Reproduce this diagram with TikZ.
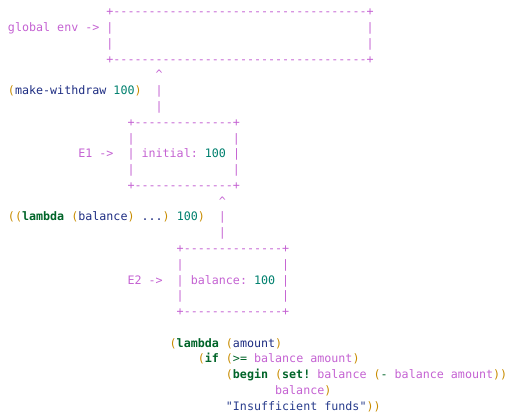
\documentclass[tikz,border=0pt]{standalone}
\usepackage{fontspec}
\setmonofont{DejaVu Sans Mono}

\definecolor{envpurple}{RGB}{196,98,210}
\definecolor{idblue}{RGB}{30,45,130}
\definecolor{kwgreen}{RGB}{0,100,40}
\definecolor{numteal}{RGB}{0,128,110}
\definecolor{pargold}{RGB}{200,140,0}
\definecolor{strblue}{RGB}{40,60,140}

\newcommand{\gap}[1]{\hspace*{#1\dimexpr0.602em\relax}}
\newcommand{\rep}[2]{\foreach \i in {1,...,#1}{#2}}
\newcommand{\border}[1]{+\rep{#1}{-}+}
\newcommand{\side}[1]{|\gap{#1}|}
\newcommand{\prn}[1]{\textcolor{pargold}{#1}}
\newcommand{\kwd}[1]{\textcolor{kwgreen}{\bfseries #1}}
\newcommand{\opr}[1]{\textcolor{kwgreen}{#1}}
\newcommand{\numb}[1]{\textcolor{numteal}{#1}}
\newcommand{\vrb}[1]{\textcolor{envpurple}{#1}}
\newcommand{\strg}[1]{\textcolor{strblue}{#1}}

\begin{document}
\begin{tikzpicture}[x=7.03pt, y=-15.78pt,
	code/.style={anchor=base west, inner sep=0pt, outer sep=0pt, text=idblue,
		font=\ttfamily\fontsize{11.68}{15.78}\selectfont\frenchspacing},
	frame/.style={code, text=envpurple}]
	\useasboundingbox (0pt,0pt) rectangle (512pt,-419pt);
	\begin{scope}[xshift=8pt]
		% global environment
		\node[frame] (gtop) at (14,1) {\border{36}};
		\node[frame] (glabel) at (0,2) {global env -> \side{36}};
		\node[frame] (gside) at (14,3) {\side{36}};
		\node[frame] (gbot) at (14,4) {\border{36}};
		% first call, frame E1
		\node[frame] (uparrow1) at (21,5) {\textasciicircum};
		\node[code] (call1) at (0,6) {\prn{(}make-withdraw \numb{100}\prn{)}\gap{2}\textcolor{envpurple}{|}};
		\node[frame] (stem1) at (21,7) {|};
		\node[frame] (etop1) at (17,8) {\border{14}};
		\node[frame] (eside1) at (17,9) {\side{14}};
		\node[frame] (elabel1) at (10,10) {E1 ->\gap{2}| initial: \numb{100} |};
		\node[frame] (eside1b) at (17,11) {\side{14}};
		\node[frame] (ebot1) at (17,12) {\border{14}};
		% second call, frame E2
		\node[frame] (uparrow2) at (30,13) {\textasciicircum};
		\node[code] (call2) at (0,14) {\prn{((}\kwd{lambda} \prn{(}balance\prn{)} ...\prn{)} \numb{100}\prn{)}\gap{2}\textcolor{envpurple}{|}};
		\node[frame] (stem2) at (30,15) {|};
		\node[frame] (etop2) at (24,16) {\border{14}};
		\node[frame] (eside2) at (24,17) {\side{14}};
		\node[frame] (elabel2) at (17,18) {E2 ->\gap{2}| balance: \numb{100} |};
		\node[frame] (eside2b) at (24,19) {\side{14}};
		\node[frame] (ebot2) at (24,20) {\border{14}};
		% procedure body
		\node[code] (body1) at (23,22) {\prn{(}\kwd{lambda} \prn{(}amount\prn{)}};
		\node[code] (body2) at (27,23) {\prn{(}\kwd{if} \prn{(}\opr{>=} \vrb{balance amount}\prn{)}};
		\node[code] (body3) at (31,24) {\prn{(}\kwd{begin} \prn{(}\kwd{set!} \vrb{balance} \prn{(}\opr{-} \vrb{balance amount}\prn{))}};
		\node[code] (body4) at (38,25) {\vrb{balance}\prn{)}};
		\node[code] (body5) at (31,26) {\strg{"Insufficient funds"}\prn{))}};
	\end{scope}
\end{tikzpicture}
\end{document}
